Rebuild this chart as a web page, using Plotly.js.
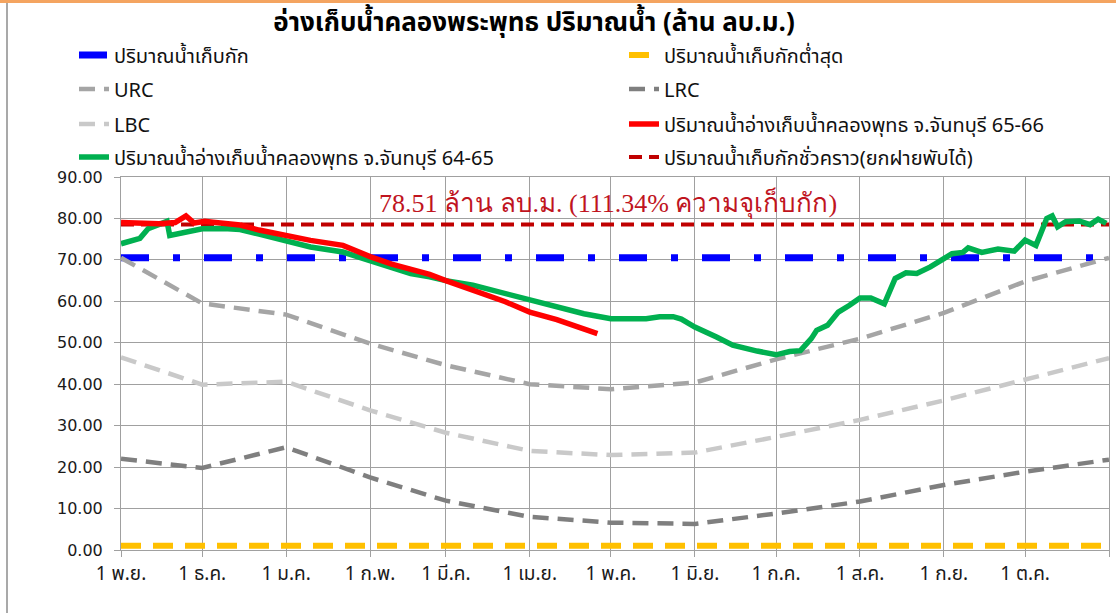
<!DOCTYPE html>
<html><head><meta charset="utf-8">
<script src="https://cdn.plot.ly/plotly-3.0.1.min.js"></script>
<style>html,body{margin:0;padding:0;background:#fff}#chart{width:1116px;height:613px}</style>
</head><body><div id="chart"></div>
<script>
// ---------- data ----------
const monthStarts = ['2021-11-01','2021-12-01','2022-01-01','2022-02-01','2022-03-01','2022-04-01','2022-05-01','2022-06-01','2022-07-01','2022-08-01','2022-09-01','2022-10-01','2022-11-01'];
const monthLabels = ['1 พ.ย.','1 ธ.ค.','1 ม.ค.','1 ก.พ.','1 มี.ค.','1 เม.ย.','1 พ.ค.','1 มิ.ย.','1 ก.ค.','1 ส.ค.','1 ก.ย.','1 ต.ค.',''];
const urcValues = [70.5, 59.5, 56.8, 49.8, 44.6, 40.0, 38.8, 40.4, 46.0, 51.0, 57.2, 64.8, 70.5];
const lbcValues = [46.5, 39.9, 40.6, 33.7, 28.3, 23.9, 22.9, 23.5, 27.3, 31.4, 36.1, 41.2, 46.3];
const lrcValues = [22.0, 19.8, 24.8, 17.5, 11.9, 8.0, 6.6, 6.3, 8.8, 11.7, 15.7, 18.9, 21.8];
const capacity = 70.51;        // ปริมาณน้ำเก็บกัก
const minStorage = 1.0;        // ปริมาณน้ำเก็บกักต่ำสุด
const tempStorage = 78.51;     // ปริมาณน้ำเก็บกักชั่วคราว

const greenDates = ['2021-11-01','2021-11-04','2021-11-08','2021-11-11','2021-11-14','2021-11-16','2021-11-18','2021-11-19','2021-11-25','2021-12-01','2021-12-09','2021-12-15','2021-12-22','2022-01-01','2022-01-10','2022-01-22','2022-02-01','2022-02-09','2022-02-16','2022-02-23','2022-03-01','2022-03-11','2022-03-23','2022-04-01','2022-04-11','2022-04-21','2022-05-01','2022-05-07','2022-05-14','2022-05-19','2022-05-24','2022-05-27','2022-06-01','2022-06-09','2022-06-15','2022-06-24','2022-06-28','2022-07-01','2022-07-06','2022-07-10','2022-07-14','2022-07-16','2022-07-20','2022-07-24','2022-07-28','2022-08-01','2022-08-05','2022-08-10','2022-08-14','2022-08-18','2022-08-22','2022-08-27','2022-09-01','2022-09-04','2022-09-08','2022-09-10','2022-09-15','2022-09-21','2022-09-27','2022-10-01','2022-10-05','2022-10-09','2022-10-11','2022-10-13','2022-10-16','2022-10-21','2022-10-25','2022-10-28','2022-10-31'];
const greenValues = [73.9,74.6,75.2,77.5,78.3,78.8,79.3,75.9,76.8,77.5,77.6,77.3,76.2,74.4,73.1,71.9,69.8,67.9,66.7,65.9,65.0,63.9,61.9,60.3,58.6,57.0,55.8,55.9,55.8,56.3,56.3,55.7,53.8,51.4,49.4,48.0,47.6,47.1,47.9,48.1,51.0,53.0,54.2,57.4,59.0,60.8,60.8,59.4,65.5,66.9,66.7,68.3,70.3,71.5,71.8,72.9,71.8,72.6,72.1,74.8,73.5,80.0,80.6,78.0,79.2,79.4,78.5,79.8,78.8];

const redDates = ['2021-11-01','2021-11-08','2021-11-15','2021-11-21','2021-11-25','2021-11-28','2021-12-02','2021-12-05','2021-12-09','2021-12-15','2021-12-22','2022-01-01','2022-01-10','2022-01-22','2022-02-01','2022-02-09','2022-02-16','2022-02-23','2022-03-01','2022-03-11','2022-03-23','2022-04-01','2022-04-11','2022-04-19','2022-04-26'];
const redValues = [79.0,78.8,78.7,79.0,80.6,78.9,79.3,79.1,78.8,78.4,77.2,75.9,74.7,73.5,70.8,69.0,67.8,66.5,65.0,62.7,59.9,57.4,55.6,53.8,52.2];

const names = {
  cap: 'ปริมาณน้ำเก็บกัก',
  min: 'ปริมาณน้ำเก็บกักต่ำสุด',
  urc: 'URC', lrc: 'LRC', lbc: 'LBC',
  red: 'ปริมาณน้ำอ่างเก็บน้ำคลองพุทธ จ.จันทบุรี 65-66',
  green: 'ปริมาณน้ำอ่างเก็บน้ำคลองพุทธ จ.จันทบุรี 64-65',
  temp: 'ปริมาณน้ำเก็บกักชั่วคราว(ยกฝายพับได้)'
};
const titleText = 'อ่างเก็บน้ำคลองพระพุทธ ปริมาณน้ำ (ล้าน ลบ.ม.)';
const noteText = '78.51 ล้าน ลบ.ม. (111.34% ความจุเก็บกัก)';

// ---------- traces ----------
const full = v => monthStarts.map(() => v);
const traces = [
  {x: monthStarts, y: full(capacity), name: names.cap, legend: 'legend', mode: 'lines',
   line: {color: '#0000FF', width: 7, dash: '28px,24px,7px,24px'}},
  {x: monthStarts, y: full(minStorage), name: names.min, legend: 'legend2', mode: 'lines',
   line: {color: '#FFC000', width: 6, dash: '20px,12px'}},
  {x: monthStarts, y: urcValues, name: names.urc, legend: 'legend3', mode: 'lines',
   line: {color: '#A5A5A5', width: 4.5, dash: '16px,9px'}},
  {x: monthStarts, y: lrcValues, name: names.lrc, legend: 'legend4', mode: 'lines',
   line: {color: '#7F7F7F', width: 4.5, dash: '16px,9px'}},
  {x: monthStarts, y: lbcValues, name: names.lbc, legend: 'legend5', mode: 'lines',
   line: {color: '#C9C9C9', width: 4.5, dash: '16px,9px'}},
  {x: monthStarts, y: full(tempStorage), name: names.temp, legend: 'legend8', mode: 'lines',
   line: {color: '#C00000', width: 4, dash: '13px,7px'}},
  {x: greenDates, y: greenValues, name: names.green, legend: 'legend7', mode: 'lines',
   line: {color: '#00B050', width: 5.5}},
  {x: redDates, y: redValues, name: names.red, legend: 'legend6', mode: 'lines',
   line: {color: '#FF0000', width: 5.5}}
];

const W = 1116, H = 613;
const thai = 'Tahoma, "Noto Sans Thai", "Noto Sans", "DejaVu Sans", sans-serif';
const legendAt = (px, py) => ({x: px / W, y: 1 - py / H, xref: 'container', yref: 'container',
  xanchor: 'left', yanchor: 'middle', bgcolor: 'rgba(0,0,0,0)',
  font: {family: thai, size: 20, color: '#111'}});

const L = {l: 121, r: 7, t: 177, b: 63, autoexpand: false};
const pw = W - L.l - L.r, ph = H - L.t - L.b;
const px2paperX = px => (px - L.l) / pw;
const py2paperY = py => (H - L.b - py) / ph;

const layout = {
  width: W, height: H, margin: L,
  paper_bgcolor: '#fff', plot_bgcolor: '#fff',
  showlegend: true,
  title: {text: '<b>' + titleText + '</b>', x: 534 / W, xref: 'container', xanchor: 'center',
          y: 1 - 22 / H, yref: 'container', yanchor: 'middle',
          font: {family: thai, size: 26, color: '#000'}},
  xaxis: {type: 'date', range: ['2021-11-01', '2022-11-01'], tickmode: 'array',
          tickvals: monthStarts, ticktext: monthLabels, showgrid: true, gridcolor: '#A0A0A0', gridwidth: 1,
          ticks: 'outside', ticklen: 6, tickcolor: '#A0A0A0', showline: true, linecolor: '#A0A0A0', mirror: true,
          tickfont: {family: thai, size: 19, color: '#1a1a1a'}, zeroline: false, tickangle: 0},
  yaxis: {range: [0, 90], tickmode: 'linear', tick0: 0, dtick: 10, tickformat: '.2f',
          showgrid: true, gridcolor: '#A0A0A0', gridwidth: 1, ticks: 'outside', ticklen: 6, tickcolor: '#A0A0A0',
          showline: true, linecolor: '#A0A0A0', mirror: true, zeroline: false, ticklabelstandoff: 8,
          tickfont: {family: '"DejaVu Sans", Tahoma, sans-serif', size: 16, color: '#1a1a1a'}},
  legend: legendAt(74, 55), legend2: legendAt(624, 55),
  legend3: legendAt(74, 89), legend4: legendAt(624, 89),
  legend5: legendAt(74, 124), legend6: legendAt(624, 124),
  legend7: legendAt(74, 157), legend8: legendAt(624, 157),
  annotations: [{text: noteText, xref: 'paper', yref: 'paper', x: px2paperX(608), y: py2paperY(203),
                 xanchor: 'center', yanchor: 'middle', showarrow: false,
                 font: {family: '"Liberation Serif", "Times New Roman", serif', size: 26, color: '#C0141E'}}],
  shapes: [
    {type: 'rect', xref: 'paper', yref: 'paper', x0: px2paperX(0), x1: px2paperX(W), y0: py2paperY(3), y1: py2paperY(0),
     fillcolor: '#F4A460', line: {width: 0}, layer: 'above'},
    {type: 'line', xref: 'paper', yref: 'paper', x0: px2paperX(7), x1: px2paperX(7), y0: py2paperY(H), y1: py2paperY(3),
     line: {color: '#8C8C8C', width: 1.5}}
  ]
};

Plotly.newPlot('chart', traces, layout, {displayModeBar: false, staticPlot: true});
</script></body></html>
